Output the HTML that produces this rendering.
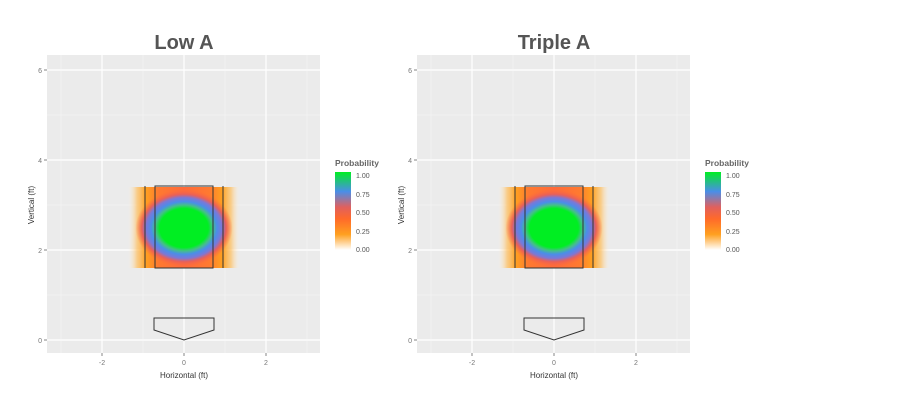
<!DOCTYPE html>
<html><head><style>
body{margin:0;background:#fff;width:900px;height:407px;overflow:hidden}
text{font-family:"Liberation Sans",sans-serif}
</style></head><body>
<svg width="900" height="407" viewBox="0 0 900 407" xmlns="http://www.w3.org/2000/svg">
<defs>
<linearGradient id="base" gradientUnits="userSpaceOnUse" x1="128" y1="0" x2="240" y2="0">
<stop offset="0" stop-color="#fff2e0" stop-opacity="0"/>
<stop offset="0.08" stop-color="#ffc060" stop-opacity="0.7"/>
<stop offset="0.16" stop-color="#ffa020"/>
<stop offset="0.27" stop-color="#ff7a30"/>
<stop offset="0.5" stop-color="#ff6a3a"/>
<stop offset="0.73" stop-color="#ff7a30"/>
<stop offset="0.84" stop-color="#ffa020"/>
<stop offset="0.92" stop-color="#ffc060" stop-opacity="0.7"/>
<stop offset="1" stop-color="#fff2e0" stop-opacity="0"/>
</linearGradient>
<radialGradient id="hm" gradientUnits="userSpaceOnUse" cx="0" cy="0" r="54" gradientTransform="translate(184,228) scale(1,0.8)">
<stop offset="0" stop-color="#00ee22"/>
<stop offset="0.45" stop-color="#00ee22"/>
<stop offset="0.53" stop-color="#44c088"/>
<stop offset="0.61" stop-color="#4a8ee8"/>
<stop offset="0.70" stop-color="#7a78d8"/>
<stop offset="0.78" stop-color="#e8605a"/>
<stop offset="0.9" stop-color="#ff6a3a" stop-opacity="0"/>
</radialGradient>
<linearGradient id="lg" x1="0" y1="0" x2="0" y2="1">
<stop offset="0" stop-color="#00ee22"/>
<stop offset="0.25" stop-color="#4a8ee8"/>
<stop offset="0.45" stop-color="#e0605e"/>
<stop offset="0.6" stop-color="#ff6a2a"/>
<stop offset="0.8" stop-color="#ffa020"/>
<stop offset="1" stop-color="#ffffff"/>
</linearGradient>
<clipPath id="cz"><rect x="128" y="187" width="112" height="81"/></clipPath>
<g id="panel">
<rect x="47" y="55" width="273" height="298" fill="#ebebeb"/>
<g stroke="#f5f5f5" stroke-width="0.6">
<line x1="61" y1="55" x2="61" y2="353"/><line x1="143" y1="55" x2="143" y2="353"/><line x1="225" y1="55" x2="225" y2="353"/><line x1="307" y1="55" x2="307" y2="353"/>
<line x1="47" y1="115" x2="320" y2="115"/><line x1="47" y1="205" x2="320" y2="205"/><line x1="47" y1="295" x2="320" y2="295"/>
</g>
<g stroke="#fff" stroke-width="1.2">
<line x1="102" y1="55" x2="102" y2="353"/><line x1="184" y1="55" x2="184" y2="353"/><line x1="266" y1="55" x2="266" y2="353"/>
<line x1="47" y1="70" x2="320" y2="70"/><line x1="47" y1="160" x2="320" y2="160"/><line x1="47" y1="250" x2="320" y2="250"/><line x1="47" y1="340" x2="320" y2="340"/>
</g>
<rect x="128" y="187" width="112" height="81" fill="url(#base)"/>
<rect x="128" y="187" width="112" height="81" fill="url(#hm)" clip-path="url(#cz)"/>
<g fill="none" stroke="#333" stroke-width="1">
<rect x="155" y="186" width="58" height="82"/>
<line x1="145" y1="186" x2="145" y2="268"/><line x1="223" y1="186" x2="223" y2="268"/>
<path d="M154,318 L214,318 L214,330 L184,340 L154,330 Z"/>
</g>
<g stroke="#666" stroke-width="0.8">
<line x1="44" y1="70" x2="47" y2="70"/><line x1="44" y1="160" x2="47" y2="160"/><line x1="44" y1="250" x2="47" y2="250"/><line x1="44" y1="340" x2="47" y2="340"/>
<line x1="102" y1="353" x2="102" y2="356"/><line x1="184" y1="353" x2="184" y2="356"/><line x1="266" y1="353" x2="266" y2="356"/>
</g>
<g font-size="7" fill="#777" text-anchor="end">
<text x="42" y="73">6</text><text x="42" y="163">4</text><text x="42" y="253">2</text><text x="42" y="343">0</text>
</g>
<g font-size="7" fill="#777" text-anchor="middle">
<text x="102" y="365">-2</text><text x="184" y="365">0</text><text x="266" y="365">2</text>
</g>
<text x="184" y="378" font-size="8" fill="#333" text-anchor="middle">Horizontal (ft)</text>
<text transform="translate(34,205) rotate(-90)" font-size="8" fill="#333" text-anchor="middle">Vertical (ft)</text>
<text x="335" y="166" font-size="8.5" font-weight="bold" fill="#666">Probability</text>
<rect x="335" y="172" width="16" height="78" fill="url(#lg)"/>
<g font-size="7" fill="#555">
<text x="356" y="178">1.00</text><text x="356" y="197">0.75</text><text x="356" y="215">0.50</text><text x="356" y="234">0.25</text><text x="356" y="252">0.00</text>
</g>
</g>
</defs>
<use href="#panel"/>
<use href="#panel" transform="translate(370,0)"/>
<text x="184" y="49" font-size="20" font-weight="bold" fill="#555" text-anchor="middle">Low A</text>
<text x="554" y="49" font-size="20" font-weight="bold" fill="#555" text-anchor="middle">Triple A</text>
</svg>
</body></html>
